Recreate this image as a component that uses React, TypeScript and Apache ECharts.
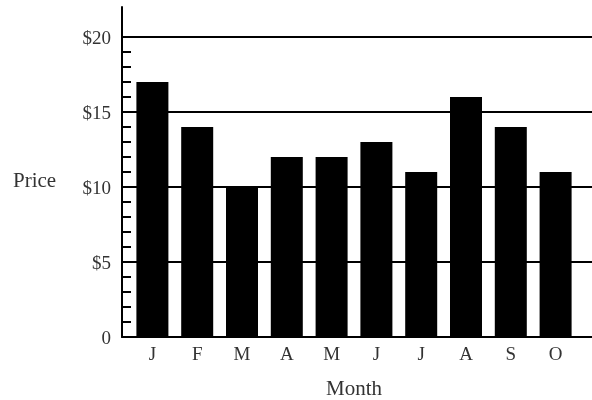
import React, { useEffect, useRef } from "react";
import * as echarts from "echarts";

const months = ["J", "F", "M", "A", "M", "J", "J", "A", "S", "O"];
const prices = [17, 14, 10, 12, 12, 13, 11, 16, 14, 11];
const majorTicks = [0, 5, 10, 15, 20];
const gridValues = [5, 10, 15, 20];
const minorTicks = [1, 2, 3, 4, 6, 7, 8, 9, 11, 12, 13, 14, 16, 17, 18, 19];
const yMax = 22;

const FONT = "Liberation Serif";
const TXT = "#333";

export default function App() {
  const ref = useRef<HTMLDivElement>(null);
  useEffect(() => {
    if (!ref.current) return;
    const chart = echarts.init(ref.current, null, { renderer: "svg" });
    chart.setOption({
      animation: false,
      grid: [
        { left: 130, width: 448, top: 7, bottom: 63 },
        { left: 122, right: 0, top: 7, bottom: 63 },
      ],
      xAxis: [
        {
          type: "category",
          gridIndex: 0,
          data: months,
          axisLine: { show: false },
          axisTick: { show: false },
          axisLabel: { fontFamily: FONT, fontSize: 19, color: TXT, margin: 7 },
        },
        {
          type: "value",
          gridIndex: 1,
          min: 0,
          max: 1,
          axisLine: { show: true, lineStyle: { color: "#000", width: 2 } },
          axisTick: { show: false },
          axisLabel: { show: false },
          splitLine: { show: false },
        },
      ],
      yAxis: [
        { type: "value", gridIndex: 0, min: 0, max: yMax, show: false },
        {
          type: "value",
          gridIndex: 1,
          min: 0,
          max: yMax,
          interval: 5,
          axisLine: { show: true, lineStyle: { color: "#000", width: 2 } },
          axisTick: {
            show: true,
            inside: true,
            length: 9,
            customValues: minorTicks,
            lineStyle: { color: "#000", width: 2 },
          },
          axisLabel: {
            customValues: majorTicks,
            formatter: (v: number) => (v === 0 ? "0" : "$" + v),
            fontFamily: FONT,
            fontSize: 19,
            color: TXT,
            margin: 11,
          },
          splitLine: { show: false },
        },
      ],
      series: [
        {
          type: "line",
          xAxisIndex: 1,
          yAxisIndex: 1,
          data: [],
          silent: true,
          markLine: {
            silent: true,
            symbol: "none",
            label: { show: false },
            lineStyle: { color: "#000", width: 2, type: "solid" },
            data: gridValues.map((v) => ({ yAxis: v })),
          },
        },
        {
          type: "bar",
          xAxisIndex: 0,
          yAxisIndex: 0,
          data: prices,
          barWidth: 32,
          itemStyle: { color: "#000" },
          z: 5,
        },
      ],
      graphic: [
        {
          type: "text",
          left: 13,
          top: 169,
          style: { text: "Price", fontFamily: FONT, fontSize: 21, fill: TXT },
        },
        {
          type: "text",
          left: 326,
          top: 377,
          style: { text: "Month", fontFamily: FONT, fontSize: 21, fill: TXT },
        },
      ],
    });
    return () => chart.dispose();
  }, []);
  return (
    <div
      ref={ref}
      style={{ position: "fixed", left: 0, top: 0, width: 592, height: 400 }}
    />
  );
}
